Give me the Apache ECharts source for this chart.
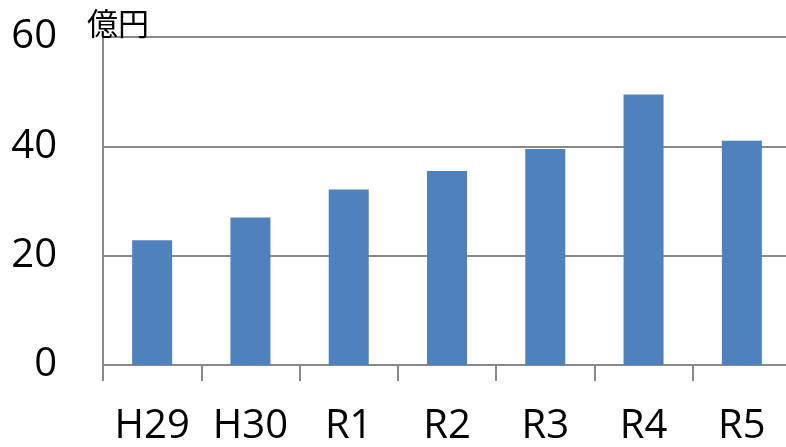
<!DOCTYPE html>
<html>
<head>
<meta charset="utf-8">
<script src="https://cdn.jsdelivr.net/npm/echarts@6/dist/echarts.min.js"></script>
<style>
  html, body { margin: 0; padding: 0; background: #fff; overflow: hidden; }
  #main { width: 791px; height: 447px; }
</style>
</head>
<body>
<div id="main"></div>
<script>
// 年度
var years = ["H29", "H30", "R1", "R2", "R3", "R4", "R5"];
// 金額（億円）
var amounts = [22.8, 27.0, 32.1, 35.5, 39.5, 49.5, 41.0];
var unitLabel = "億円";

var gray = "#898989";
var myChart = echarts.init(document.getElementById("main"));
var option = {
  animation: false,
  title: {
    text: unitLabel,
    left: 82,
    top: 3,
    textStyle: {
      fontFamily: "Noto Sans CJK JP",
      fontSize: 31,
      fontWeight: "normal",
      color: "#000"
    }
  },
  grid: {
    left: 103,
    top: 37,
    right: 0,
    height: 330
  },
  xAxis: {
    type: "category",
    data: years,
    axisLine: { lineStyle: { color: gray, width: 2 } },
    axisTick: { show: true, length: 16, lineStyle: { color: gray, width: 2 } },
    axisLabel: {
      interval: 0,
      margin: 42,
      fontFamily: "Open Sans",
      fontSize: 40,
      color: "#000"
    }
  },
  yAxis: {
    type: "value",
    min: 0,
    max: 60,
    interval: 20,
    axisLine: { show: true, lineStyle: { color: gray, width: 2 } },
    axisTick: { show: false },
    splitLine: { lineStyle: { color: gray, width: 2 } },
    axisLabel: {
      margin: 46,
      fontFamily: "Open Sans",
      fontSize: 40,
      color: "#000"
    }
  },
  series: [{
    type: "bar",
    data: amounts,
    barWidth: 40,
    itemStyle: { color: "#4f81bd" }
  }]
};
myChart.setOption(option);
</script>
</body>
</html>
